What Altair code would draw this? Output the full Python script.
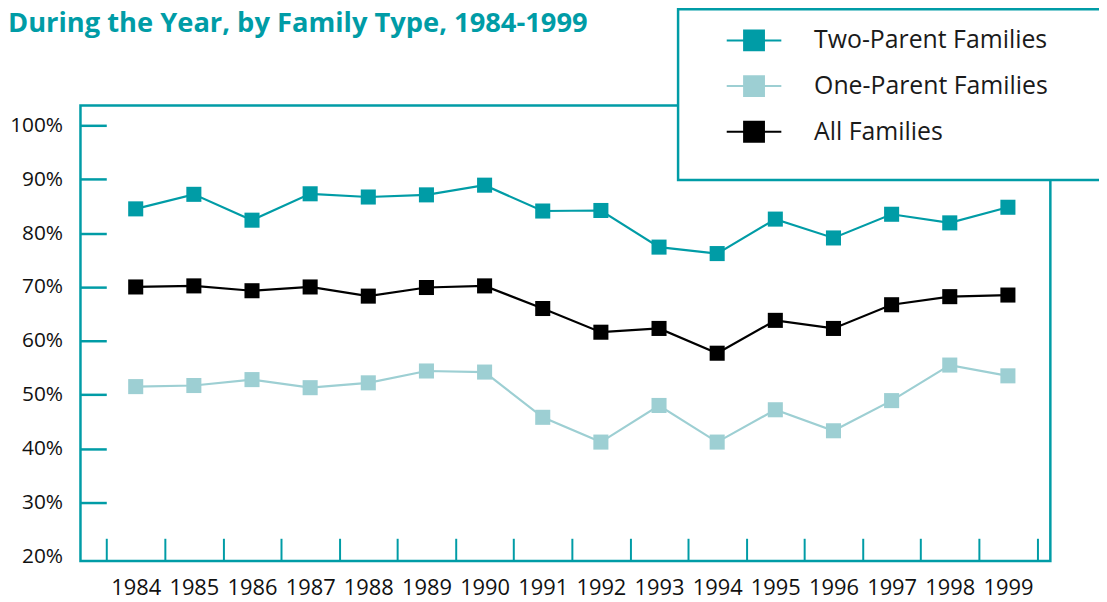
import altair as alt
import pandas as pd

# ---------------- data ----------------
years = list(range(1984, 2000))
two_parent = [84.5, 87.2, 82.4, 87.3, 86.7, 87.1, 88.9, 84.1, 84.2, 77.4, 76.2, 82.6, 79.1, 83.5, 81.9, 84.8]
one_parent = [51.5, 51.7, 52.8, 51.3, 52.2, 54.4, 54.2, 45.8, 41.2, 48.0, 41.2, 47.2, 43.3, 48.9, 55.5, 53.5]
all_families = [70.0, 70.2, 69.3, 70.0, 68.3, 69.9, 70.2, 66.0, 61.6, 62.3, 57.7, 63.8, 62.3, 66.7, 68.2, 68.5]
series_names = ["Two-Parent Families", "One-Parent Families", "All Families"]
series_colors = ["#009ca6", "#9dcfd3", "#000000"]
y_ticks = [20, 30, 40, 50, 60, 70, 80, 90, 100]
title_text = "During the Year, by Family Type, 1984-1999"

teal = "#009ca6"
font = "Open Sans"

rows = []
for name, vals in zip(series_names, [two_parent, one_parent, all_families]):
    for yr, v in zip(years, vals):
        rows.append({"year": yr, "value": v, "series": name})
df = pd.DataFrame(rows)

# tick marks sit on the boundaries between years
tick_bounds = [yr - 0.5 for yr in years] + [years[-1] + 0.5]

x = alt.X(
    "year:Q",
    scale=alt.Scale(domain=[1983.05, 1999.73], nice=False, zero=False),
    axis=alt.Axis(
        values=tick_bounds,
        labelExpr="datum.value < 1999 ? toString(datum.value + 0.5) : ''",
        labelOffset=29.3,
        offset=-23,
        tickSize=23,
        tickColor=teal,
        tickWidth=2,
        domain=False,
        grid=False,
        labelFlush=False,
        labelOverlap=False,
        labelPadding=17,
        labelFont=font,
        labelFontSize=22,
        labelColor="#111111",
        title=None,
    ),
)

y = alt.Y(
    "value:Q",
    scale=alt.Scale(domain=[19.1, 103.7], nice=False, zero=False),
    axis=alt.Axis(
        values=y_ticks,
        labelExpr="datum.value + '%'",
        offset=-26,
        tickSize=26,
        tickColor=teal,
        tickWidth=2.5,
        tickOpacity={"condition": {"test": "datum.value == 20", "value": 0}, "value": 1},
        domain=False,
        grid=False,
        labelPadding=18,
        labelFont=font,
        labelFontSize=21,
        labelColor="#111111",
        title=None,
    ),
)

# the legend title is an invisible spacer that widens the legend box
legend = alt.Legend(
    title="0" * 69,
    titleOpacity=0,
    titleOrient="bottom",
    titleFontSize=10,
    titlePadding=5,
    titleLimit=1000,
    titleFont=font,
    orient="none",
    legendX=602,
    legendY=-97,
    direction="vertical",
    fillColor="white",
    strokeColor=teal,
    padding=19,
    rowPadding=17,
    symbolType="M-2.5,0H2.5M-0.91,-0.91H0.91V0.91H-0.91Z",
    symbolSize=484,
    symbolStrokeWidth=2,
    symbolOffset=45,
    symbolOpacity=1,
    symbolFillColor={"expr": "scale('color', datum.value)"},
    symbolStrokeColor={"expr": "scale('color', datum.value)"},
    labelOffset=48,
    labelFont=font,
    labelFontSize=25,
    labelColor="#1a1a1a",
    labelLimit=600,
)

color = alt.Color(
    "series:N",
    scale=alt.Scale(domain=series_names, range=series_colors),
    sort=series_names,
    legend=legend,
)

chart = (
    alt.Chart(df)
    .mark_line(
        strokeWidth=2.2,
        point=alt.OverlayMarkDef(shape="square", filled=True, size=230, opacity=1),
    )
    .encode(x=x, y=y, color=color)
    .properties(
        width=977,
        height=459,
        autosize=alt.AutoSizeParams(type="none"),
        padding={"left": 73, "top": 96, "right": 49, "bottom": 37},
        title=alt.TitleParams(
            text=title_text,
            anchor="start",
            frame="group",
            orient="top",
            offset=0,
            dx=-73,
            dy=52,
            baseline="alphabetic",
            font=font,
            fontSize=27.5,
            fontWeight="bold",
            color=teal,
        ),
    )
    .configure_view(stroke=teal, strokeWidth=2.5)
    .configure_legend(strokeWidth=2.5)
)

chart.save("out.html", embed_options={"renderer": "svg", "actions": False})
